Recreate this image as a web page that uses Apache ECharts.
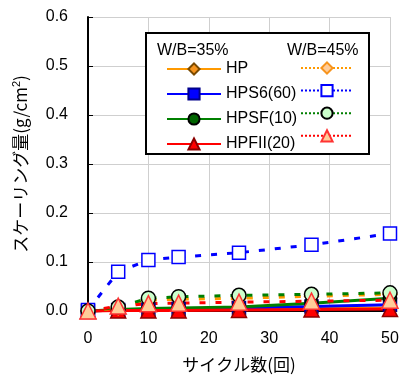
<!DOCTYPE html>
<html>
<head>
<meta charset="utf-8">
<script src="https://cdn.jsdelivr.net/npm/echarts@6/dist/echarts.min.js"></script>
<style>
  html, body { margin: 0; padding: 0; background: #fff; }
  #chart { width: 411px; height: 378px; }
</style>
</head>
<body>
<div id="chart"></div>
<script>
// Cycle counts (x) and scaling amounts (g/cm2) per mix
const cycles = [0, 5, 10, 15, 25, 37, 50];

const hp35     = [0, 0.002, 0.003, 0.003, 0.004, 0.005, 0.006];
const hps6_35  = [0, 0.002, 0.003, 0.004, 0.006, 0.009, 0.013];
const hpsf35   = [0, 0.003, 0.005, 0.006, 0.008, 0.016, 0.026];
const hpfii35  = [0, 0.001, 0.001, 0.001, 0.002, 0.003, 0.004];

const hp45     = [0, 0.006, 0.022, 0.024, 0.026, 0.030, 0.034];
const hps6_45  = [0.002, 0.080, 0.104, 0.110, 0.119, 0.135, 0.158];
const hpsf45   = [0, 0.008, 0.026, 0.029, 0.032, 0.034, 0.037];
const hpfii45  = [0, 0.010, 0.015, 0.016, 0.018, 0.020, 0.022];

const seriesNames = ['HP', 'HPS6(60)', 'HPSF(10)', 'HPFII(20)'];

const FONT = '"Liberation Sans", Arial, sans-serif';
const JP = '"Noto Sans CJK JP", sans-serif';
const DOT = [6, 10];

function pairs(ys) { return cycles.map((x, i) => [x, ys[i]]); }

function mkSeries(name, ys, opt) {
  return {
    name: name,
    type: 'line',
    data: pairs(ys),
    clip: false,
    symbol: opt.symbol,
    symbolSize: opt.size,
    lineStyle: { color: opt.line, width: 3, type: opt.dotted ? DOT : 'solid' },
    itemStyle: { color: opt.fill, borderColor: opt.border, borderWidth: 1.5 },
    emphasis: { disabled: true },
    animation: false
  };
}

const solid = [
  mkSeries('HP', hp35, { symbol: 'diamond', size: 14, line: '#FF9900', fill: '#F7941D', border: '#7a4a00' }),
  mkSeries('HPS6(60)', hps6_35, { symbol: 'rect', size: 13, line: '#0000FF', fill: '#0000FF', border: '#00008b' }),
  mkSeries('HPSF(10)', hpsf35, { symbol: 'circle', size: 13, line: '#008000', fill: '#006400', border: '#000' }),
  mkSeries('HPFII(20)', hpfii35, { symbol: 'triangle', size: 15, line: '#FF0000', fill: '#FF0000', border: '#8b0000' })
];
const dotted = [
  mkSeries('HP W/B=45%', hp45, { symbol: 'diamond', size: 14, line: '#FF9900', fill: '#FFCC99', border: '#F7941D', dotted: true }),
  mkSeries('HPS6(60) W/B=45%', hps6_45, { symbol: 'rect', size: 13, line: '#0000FF', fill: '#FFFFFF', border: '#0000FF', dotted: true }),
  mkSeries('HPSF(10) W/B=45%', hpsf45, { symbol: 'circle', size: 14, line: '#008000', fill: '#CCFFCC', border: '#000', dotted: true }),
  mkSeries('HPFII(20) W/B=45%', hpfii45, { symbol: 'triangle', size: 16, line: '#FF0000', fill: '#FFCC99', border: '#FF3333', dotted: true })
];

const chart = echarts.init(document.getElementById('chart'), null, { renderer: 'canvas' });
chart.setOption({
  backgroundColor: '#fff',
  animation: false,
  grid: { left: 88, right: 21, top: 17, bottom: 67 },
  xAxis: {
    type: 'value', min: 0, max: 50, interval: 10,
    axisLine: { lineStyle: { color: '#000', width: 2 } },
    axisTick: { inside: true, length: 4, lineStyle: { color: '#000' } },
    splitLine: { show: true, lineStyle: { color: '#cfcfcf', width: 1 } },
    axisLabel: { fontFamily: FONT, fontSize: 16, color: '#000', margin: 20 },
    name: 'サイクル数(回)', nameLocation: 'middle', nameGap: 45,
    nameTextStyle: { fontFamily: JP, fontSize: 17, color: '#000' }
  },
  yAxis: {
    type: 'value', min: 0, max: 0.6, interval: 0.1,
    axisLine: { show: true, lineStyle: { color: '#000', width: 2 } },
    axisTick: { show: true, inside: true, length: 5, lineStyle: { color: '#000' } },
    splitLine: { show: true, lineStyle: { color: '#cfcfcf', width: 1 } },
    axisLabel: { fontFamily: FONT, fontSize: 16, color: '#000', margin: 20,
      formatter: v => v.toFixed(1) },
    name: '{a|スケーリング量(g/cm}{s|2}{a|)}', nameLocation: 'middle', nameGap: 58, nameRotate: 90,
    nameTextStyle: {
      rich: {
        a: { fontFamily: JP, fontSize: 17, color: '#000' },
        s: { fontFamily: FONT, fontSize: 11, color: '#000', verticalAlign: 'top', padding: [0, 0, 8, 0] }
      }
    }
  },
  graphic: [
    { type: 'rect', left: 145, top: 32, z: 5,
      shape: { width: 223, height: 121 },
      style: { fill: '#fff', stroke: '#000', lineWidth: 2 } },
    { type: 'text', left: 157, top: 43, z: 6,
      style: { text: 'W/B=35%', font: '16px ' + FONT, fill: '#000' } },
    { type: 'text', left: 287, top: 43, z: 6,
      style: { text: 'W/B=45%', font: '16px ' + FONT, fill: '#000' } }
  ],
  legend: [
    {
      data: seriesNames, orient: 'vertical', left: 166, top: 61, z: 10,
      padding: 0, itemWidth: 54, itemHeight: 14, itemGap: 9,
      textStyle: { fontFamily: FONT, fontSize: 16, color: '#000' },
      selectedMode: false
    },
    {
      data: dotted.map(s => s.name), orient: 'vertical', left: 300, top: 61, z: 10,
      padding: 0, itemWidth: 52, itemHeight: 14, itemGap: 9,
      formatter: () => '',
      lineStyle: { type: 'dotted' },
      selectedMode: false
    }
  ],
  series: solid.concat(dotted)
});
</script>
</body>
</html>
